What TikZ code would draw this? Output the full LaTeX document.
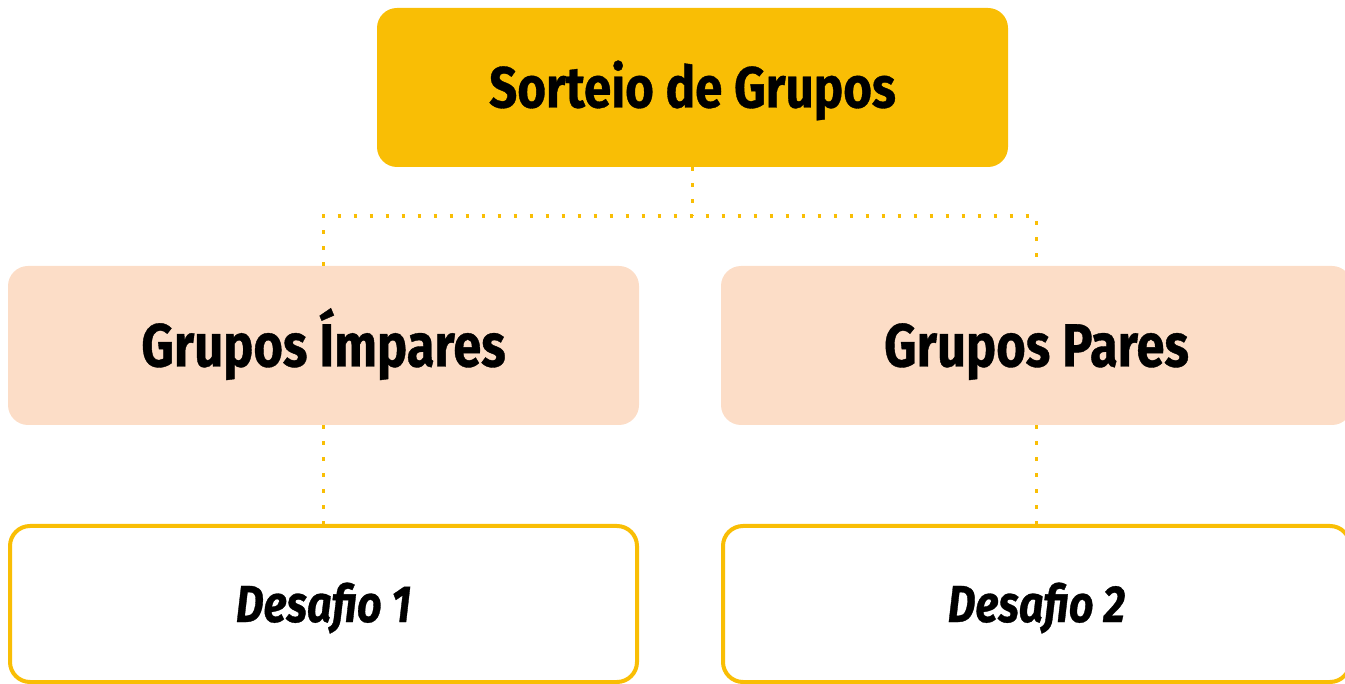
\documentclass[tikz,border=0pt]{standalone}
\usepackage{fontspec}
\newfontfamily\cond[FakeStretch=0.83,FakeBold=0.6]{Fira Sans}
\newfontfamily\condtop[FakeStretch=0.85,FakeBold=0.6]{Fira Sans}
\definecolor{ygold}{HTML}{F9BE05}
\definecolor{peach}{HTML}{FCDDC7}
\begin{document}
\begin{tikzpicture}[x=1pt,y=-1pt,
  boxbase/.style={rounded corners=20pt, inner sep=0pt, text depth=0pt},
  topbox/.style={boxbase, fill=ygold, minimum width=631pt, minimum height=159pt, text height=40pt, font=\condtop\bfseries\fontsize{58}{60}\selectfont},
  midbox/.style={boxbase, fill=peach, minimum width=631pt, minimum height=159pt, text height=42pt, font=\cond\bfseries\fontsize{61}{63}\selectfont},
  lowbox/.style={boxbase, draw=ygold, line width=4pt, fill=white, minimum width=627pt, minimum height=156pt, text height=36pt, font=\cond\bfseries\itshape\fontsize{52}{54}\selectfont},
  dotline/.style={draw=ygold, line width=3.5pt, dash pattern=on 3.5pt off 12.5pt}]
\useasboundingbox (0,0) rectangle (1345,684);
\node[topbox] (top) at (692.5,87.5) {Sorteio de Grupos};
\node[midbox] (ml) at (323.5,345.5) {Grupos Ímpares};
\node[midbox] (mr) at (1036.5,345.5) {Grupos Pares};
\node[lowbox] (bl) at (323.5,604) {Desafio 1};
\node[lowbox] (br) at (1036.5,604) {Desafio 2};
\coordinate (j) at (692.5,216);
\draw[dotline] (top.south) -- (j);
\draw[dotline] (ml.north) -- (ml.north |- j) -- (mr.north |- j) -- (mr.north);
\draw[dotline] (ml.south) -- (bl.north);
\draw[dotline] (mr.south) -- (br.north);
\end{tikzpicture}
\end{document}
